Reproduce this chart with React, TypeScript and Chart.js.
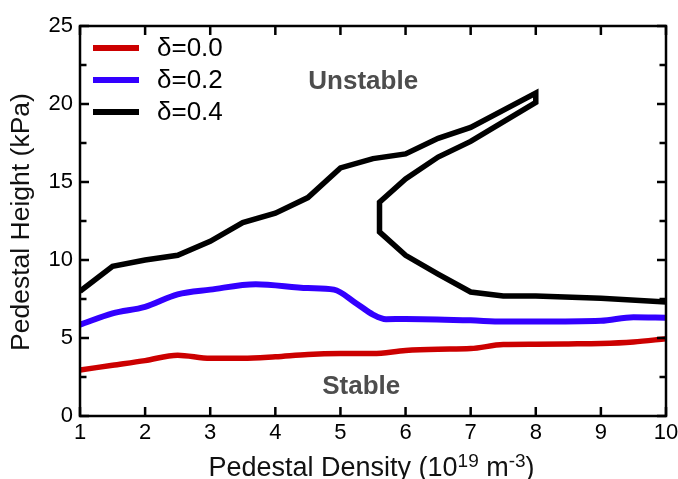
import React, { useEffect, useRef } from 'react';
import { Chart, registerables } from 'chart.js';

Chart.register(...registerables);

const FONT = "'Liberation Sans', Arial, Helvetica, sans-serif";

// δ = 0.0 (red)
const redDensity = [1, 1.5, 2, 2.5, 3, 3.5, 4, 4.5, 5, 5.5, 6, 6.5, 7, 7.5, 8, 8.5, 9, 9.5, 10];
const redHeight = [2.95, 3.25, 3.55, 3.9, 3.7, 3.7, 3.8, 3.95, 4.0, 4.0, 4.2, 4.28, 4.32, 4.58, 4.6, 4.62, 4.65, 4.75, 4.95];

// δ = 0.2 (blue)
const blueDensity = [1, 1.5, 2, 2.5, 3, 3.7, 4.5, 4.9, 5.25, 5.5, 5.7, 6, 7, 7.5, 8, 9, 9.5, 10];
const blueHeight = [5.85, 6.58, 7.0, 7.8, 8.1, 8.45, 8.2, 8.1, 7.2, 6.5, 6.2, 6.22, 6.13, 6.05, 6.05, 6.1, 6.33, 6.3];

// δ = 0.4 (black) – stability boundary traced in order
const blackDensity = [1, 1.5, 2, 2.5, 3, 3.5, 4, 4.5, 5, 5.5, 6, 6.5, 7, 8, 8, 7, 6.5, 6, 5.6, 5.6, 6, 6.5, 7, 7.5, 8, 9, 10];
const blackHeight = [8.0, 9.6, 10.0, 10.3, 11.2, 12.4, 13.0, 14.0, 15.9, 16.5, 16.8, 17.8, 18.5, 20.7, 20.1, 17.6, 16.6, 15.2, 13.7, 11.8, 10.3, 9.1, 7.95, 7.7, 7.7, 7.55, 7.3];

const seriesLabels = ['δ=0.0', 'δ=0.2', 'δ=0.4'];
const seriesColors = ['#cc0000', '#3300ff', '#000000'];

const xTicks = [1, 2, 3, 4, 5, 6, 7, 8, 9, 10];
const yTicks = [0, 2.5, 5, 7.5, 10, 12.5, 15, 17.5, 20, 22.5, 25];

const regionLabels = [
  { text: 'Unstable', x: 5.35, y: 21.4 },
  { text: 'Stable', x: 5.32, y: 1.9 },
];

const zip = (xs: number[], ys: number[]) => xs.map((x, i) => ({ x, y: ys[i] }));

const decorPlugin = {
  id: 'decor',
  afterDraw(chart: any) {
    const { ctx, chartArea, scales } = chart;
    const xs = scales.x;
    const ys = scales.y;
    const { left, right, top, bottom } = chartArea;
    ctx.save();
    ctx.strokeStyle = '#000';
    ctx.lineWidth = 2.5;
    ctx.lineCap = 'butt';
    ctx.strokeRect(left, top, right - left, bottom - top);

    ctx.lineWidth = 2.5;
    ctx.beginPath();
    xTicks.forEach((v) => {
      const px = xs.getPixelForValue(v);
      ctx.moveTo(px, bottom);
      ctx.lineTo(px, bottom - 9);
      ctx.moveTo(px, top);
      ctx.lineTo(px, top + 9);
    });
    yTicks.forEach((v) => {
      const py = ys.getPixelForValue(v);
      const len = v % 5 === 0 ? 9 : 6.5;
      ctx.moveTo(left, py);
      ctx.lineTo(left + len, py);
      ctx.moveTo(right, py);
      ctx.lineTo(right - len, py);
    });
    ctx.stroke();

    // legend
    chart.data.datasets.forEach((ds: any, i: number) => {
      const y = 48 + i * 32;
      ctx.strokeStyle = ds.borderColor;
      ctx.lineWidth = 6;
      ctx.beginPath();
      ctx.moveTo(93, y);
      ctx.lineTo(139, y);
      ctx.stroke();
      ctx.fillStyle = '#000';
      ctx.font = `26px ${FONT}`;
      ctx.textAlign = 'left';
      ctx.textBaseline = 'middle';
      ctx.fillText(ds.label, 157, y + 1);
    });

    // region labels
    ctx.fillStyle = '#4d4d4d';
    ctx.font = `bold 26px ${FONT}`;
    ctx.textAlign = 'center';
    ctx.textBaseline = 'middle';
    regionLabels.forEach((r) => {
      ctx.fillText(r.text, xs.getPixelForValue(r.x), ys.getPixelForValue(r.y));
    });

    // y axis title
    ctx.fillStyle = '#111';
    ctx.font = `26.5px ${FONT}`;
    ctx.save();
    ctx.translate(22, 222);
    ctx.rotate(-Math.PI / 2);
    ctx.textAlign = 'center';
    ctx.textBaseline = 'middle';
    ctx.fillText('Pedestal Height (kPa)', 0, 0);
    ctx.restore();

    // x axis title with superscripts
    const parts = [
      { t: 'Pedestal Density (10', sup: false },
      { t: '19', sup: true },
      { t: ' m', sup: false },
      { t: '-3', sup: true },
      { t: ')', sup: false },
    ];
    const mainFont = `27px ${FONT}`;
    const supFont = `19px ${FONT}`;
    let total = 0;
    parts.forEach((p) => {
      ctx.font = p.sup ? supFont : mainFont;
      total += ctx.measureText(p.t).width;
    });
    let cx = 371.5 - total / 2;
    const baseline = 476;
    ctx.textAlign = 'left';
    ctx.textBaseline = 'alphabetic';
    parts.forEach((p) => {
      ctx.font = p.sup ? supFont : mainFont;
      ctx.fillText(p.t, cx, p.sup ? baseline - 9 : baseline);
      cx += ctx.measureText(p.t).width;
    });
    ctx.restore();
  },
};

export default function App() {
  const ref = useRef<HTMLCanvasElement | null>(null);
  useEffect(() => {
    if (!ref.current) return;
    const chart = new Chart(ref.current, {
      type: 'line',
      data: {
        datasets: [
          {
            label: seriesLabels[0],
            data: zip(redDensity, redHeight),
            borderColor: seriesColors[0],
            borderWidth: 5.5,
            pointRadius: 0,
            cubicInterpolationMode: 'monotone',
            fill: false,
          },
          {
            label: seriesLabels[1],
            data: zip(blueDensity, blueHeight),
            borderColor: seriesColors[1],
            borderWidth: 6,
            pointRadius: 0,
            cubicInterpolationMode: 'monotone',
            fill: false,
          },
          {
            label: seriesLabels[2],
            data: zip(blackDensity, blackHeight),
            borderColor: seriesColors[2],
            borderWidth: 5.5,
            pointRadius: 0,
            tension: 0,
            borderJoinStyle: 'miter',
            fill: false,
          },
        ],
      } as any,
      options: {
        responsive: false,
        animation: false,
        events: [],
        layout: { padding: { left: 0, top: 26, right: 12, bottom: 0 } },
        plugins: {
          legend: { display: false },
          tooltip: { enabled: false },
          title: { display: false },
        },
        scales: {
          x: {
            type: 'linear',
            min: 1,
            max: 10,
            grid: { display: false, drawTicks: false },
            border: { display: false },
            ticks: {
              stepSize: 1,
              color: '#000',
              padding: 4,
              maxRotation: 0,
              font: { family: FONT, size: 22 },
            },
            afterFit(scale: any) {
              scale.height = 63;
              scale.paddingLeft = 0;
              scale.paddingRight = 0;
            },
          },
          y: {
            type: 'linear',
            min: 0,
            max: 25,
            grid: { display: false, drawTicks: false },
            border: { display: false },
            ticks: {
              stepSize: 5,
              color: '#000',
              padding: 7,
              font: { family: FONT, size: 22 },
            },
            afterFit(scale: any) {
              scale.width = 80;
              scale.paddingTop = 0;
              scale.paddingBottom = 0;
            },
          },
        },
      } as any,
      plugins: [decorPlugin],
    });
    return () => chart.destroy();
  }, []);
  return (
    <div style={{ position: 'fixed', left: 0, top: 0, width: 678, height: 479, background: '#fff' }}>
      <canvas ref={ref} width={678} height={479} style={{ display: 'block' }} />
    </div>
  );
}
